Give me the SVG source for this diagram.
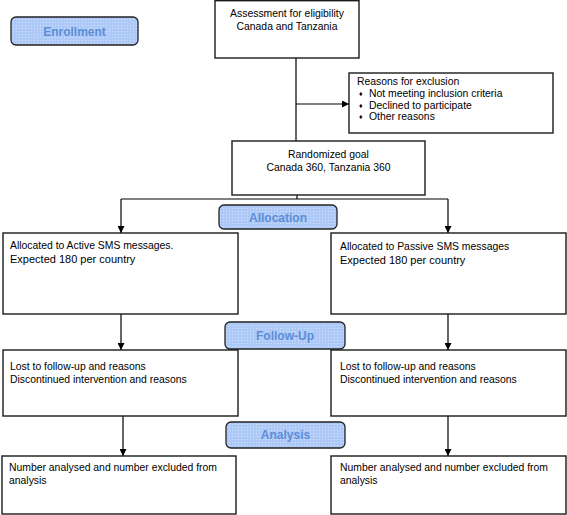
<svg xmlns="http://www.w3.org/2000/svg" width="567" height="515" viewBox="0 0 567 515">
<style>
.box{fill:#fff;stroke:#1a1a1a;stroke-width:1.4}
.pill{fill:url(#dots);stroke:#222;stroke-width:1.3}
.pt{font-family:"Liberation Sans",Arial,sans-serif;font-size:12px;font-weight:bold;fill:#5b8ed6;text-anchor:middle}
.t{font-family:"Liberation Sans",Arial,sans-serif;font-size:10.4px;fill:#000}
.b{font-size:7px}
.tc{text-anchor:middle}
.e{font-size:11px}
.c{fill:none;stroke:#000;stroke-width:1.2}
</style>
<defs>
<pattern id="dots" width="3" height="3" patternUnits="userSpaceOnUse">
<rect width="3" height="3" fill="#adc9f8"/>
<rect x="1" y="1" width="1" height="1" fill="#d3e0f3"/>
</pattern>
<marker id="ah" viewBox="0 0 10 10" refX="10" refY="5" markerWidth="7" markerHeight="7" markerUnits="userSpaceOnUse" orient="auto">
<path d="M0,0 L10,5 L0,10 z" fill="#000"/>
</marker>
</defs>
<g id="connectors">
<line class="c" x1="296" y1="58" x2="296" y2="141"/>
<line class="c" x1="296" y1="104" x2="349" y2="104" marker-end="url(#ah)"/>
<line class="c" x1="297" y1="195" x2="297" y2="199"/>
<polyline class="c" points="121,199 448,199"/>
<line class="c" x1="121" y1="199" x2="121" y2="233" marker-end="url(#ah)"/>
<line class="c" x1="448" y1="199" x2="448" y2="233" marker-end="url(#ah)"/>
<line class="c" x1="121" y1="314" x2="121" y2="350" marker-end="url(#ah)"/>
<line class="c" x1="448" y1="314" x2="448" y2="350" marker-end="url(#ah)"/>
<line class="c" x1="123" y1="416" x2="123" y2="456" marker-end="url(#ah)"/>
<line class="c" x1="448" y1="416" x2="448" y2="456" marker-end="url(#ah)"/>
</g>
<g id="enrollment">
<rect class="pill" x="11" y="17" width="127" height="28" rx="5"/>
<text class="pt" x="74.5" y="35.5">Enrollment</text>
</g>
<g id="assessment">
<rect class="box" x="215" y="0.7" width="144" height="57.3"/>
<text class="t tc" x="287" y="17">Assessment for eligibility</text>
<text class="t tc" x="287" y="30">Canada and Tanzania</text>
</g>
<g id="exclusion">
<rect class="box" x="349" y="73" width="204" height="60"/>
<text class="t" x="357" y="85">Reasons for exclusion</text>
<text class="t b" x="359" y="96">♦</text><text class="t" x="369" y="97">Not meeting inclusion criteria</text>
<text class="t b" x="359" y="107.5">♦</text><text class="t" x="369" y="108.5">Declined to participate</text>
<text class="t b" x="359" y="119">♦</text><text class="t" x="369" y="120">Other reasons</text>
</g>
<g id="randomized">
<rect class="box" x="232" y="141" width="193" height="54"/>
<text class="t tc" x="328.5" y="158">Randomized goal</text>
<text class="t tc" x="328.5" y="171">Canada 360, Tanzania 360</text>
</g>
<g id="allocation">
<rect class="pill" x="219" y="205" width="118" height="24" rx="5"/>
<text class="pt" x="278" y="221.5">Allocation</text>
</g>
<g id="active">
<rect class="box" x="3" y="233" width="235" height="81"/>
<text class="t" x="10" y="249">Allocated to Active SMS messages.</text>
<text class="t e" x="10" y="263"> Expected 180 per country</text>
</g>
<g id="passive">
<rect class="box" x="331" y="233" width="235" height="81"/>
<text class="t" x="340" y="250">Allocated to Passive SMS messages</text>
<text class="t e" x="340" y="264">Expected 180 per country</text>
</g>
<g id="followup">
<rect class="pill" x="225" y="322" width="120" height="27" rx="5"/>
<text class="pt" x="285" y="339.5">Follow-Up</text>
</g>
<g id="lost-left">
<rect class="box" x="3" y="350" width="235" height="66"/>
<text class="t" x="10" y="370">Lost to follow-up and reasons</text>
<text class="t" x="10" y="383">Discontinued intervention and reasons</text>
</g>
<g id="lost-right">
<rect class="box" x="331" y="350" width="235" height="66"/>
<text class="t" x="340" y="370">Lost to follow-up and reasons</text>
<text class="t" x="340" y="383">Discontinued intervention and reasons</text>
</g>
<g id="analysis">
<rect class="pill" x="226" y="422" width="119" height="26" rx="5"/>
<text class="pt" x="285.5" y="439">Analysis</text>
</g>
<g id="analysed-left">
<rect class="box" x="2" y="456" width="234" height="58"/>
<text class="t" x="9" y="471">Number analysed and number excluded from</text>
<text class="t" x="9" y="484">analysis</text>
</g>
<g id="analysed-right">
<rect class="box" x="331" y="456" width="235" height="58"/>
<text class="t" x="340" y="471">Number analysed and number excluded from</text>
<text class="t" x="340" y="484">analysis</text>
</g>
</svg>
